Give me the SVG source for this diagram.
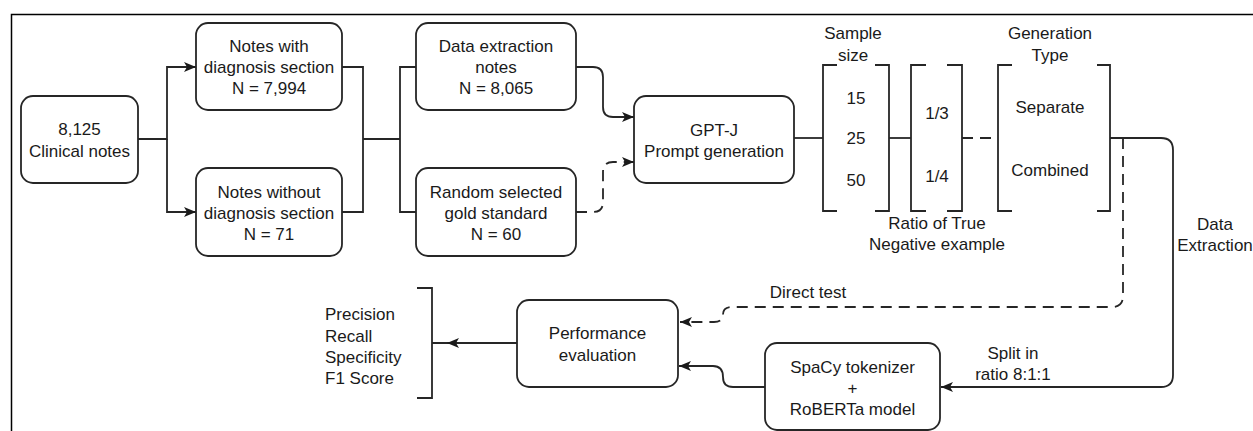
<svg xmlns="http://www.w3.org/2000/svg" width="1253" height="431" viewBox="0 0 1253 431">
<defs>
<style>
.box{fill:#fff;stroke:#262626;stroke-width:1.8}
.ln{fill:none;stroke:#262626;stroke-width:1.8}
.dash{fill:none;stroke:#262626;stroke-width:1.8;stroke-dasharray:11 7}
text{font-family:"Liberation Sans",Arial,sans-serif;font-size:17px;fill:#1a1a1a}
.c{text-anchor:middle}
</style>
<marker id="arr" viewBox="0 0 12 10" refX="12" refY="5" markerWidth="12" markerHeight="10" markerUnits="userSpaceOnUse" orient="auto">
<path d="M0,0 L12,5 L0,10 L3,5 Z" fill="#1a1a1a"/>
</marker>
</defs>
<rect x="11.5" y="14.5" width="1260" height="430" fill="#fff" stroke="#000" stroke-width="1.5"/>

<g id="connectors">
<path class="ln" d="M138,139 H167 V67 H196" marker-end="url(#arr)"/>
<path class="ln" d="M167,139 V212 H196" marker-end="url(#arr)"/>
<path class="ln" d="M342,67 H363 V212 H342"/>
<path class="ln" d="M363,139 H400"/>
<path class="ln" d="M416,67 H400 V212 H416"/>
<path class="ln" d="M576,67 H593 Q603,67 603,77 V107 Q603,117 613,117 H634" marker-end="url(#arr)"/>
<path class="dash" d="M576,212 H593 Q603,212 603,202 V172 Q603,162 613,162 H634" marker-end="url(#arr)"/>
<path class="ln" d="M794,138 H823"/>
<path class="ln" d="M889,138 H911"/>
<path class="dash" d="M962,138 H998"/>
<path class="ln" d="M1110,138 H1161 Q1173,138 1173,150 V375 Q1173,387 1161,387 H941" marker-end="url(#arr)"/>
<path class="dash" d="M1123,138 V296 Q1123,307 1112,307 H732 Q723,307 723,314.5 Q723,322 714,322 H680" marker-end="url(#arr)"/>
<path class="ln" d="M765,387 H733 Q723,387 723,377 Q723,366 713,366 H679" marker-end="url(#arr)"/>
<path class="ln" d="M517,343 H432" />
<path class="ln" d="M517,343 H447" marker-end="url(#arr)"/>
</g>

<g id="clinical-notes">
<rect class="box" x="21" y="96" width="117" height="87" rx="12"/>
<text class="c" x="79.5" y="135">8,125</text>
<text class="c" x="79.5" y="157">Clinical notes</text>
</g>
<g id="notes-with">
<rect class="box" x="196" y="23" width="146" height="87" rx="12"/>
<text class="c" x="269" y="52">Notes with</text>
<text class="c" x="269" y="73">diagnosis section</text>
<text class="c" x="269" y="94">N = 7,994</text>
</g>
<g id="notes-without">
<rect class="box" x="196" y="168" width="146" height="88" rx="12"/>
<text class="c" x="269" y="197.5">Notes without</text>
<text class="c" x="269" y="218.5">diagnosis section</text>
<text class="c" x="269" y="239.5">N = 71</text>
</g>
<g id="data-extraction">
<rect class="box" x="416" y="23" width="160" height="87" rx="12"/>
<text class="c" x="496" y="52">Data extraction</text>
<text class="c" x="496" y="73">notes</text>
<text class="c" x="496" y="94">N = 8,065</text>
</g>
<g id="random-gold">
<rect class="box" x="416" y="168" width="160" height="88" rx="12"/>
<text class="c" x="496" y="197.5">Random selected</text>
<text class="c" x="496" y="218.5">gold standard</text>
<text class="c" x="496" y="239.5">N = 60</text>
</g>
<g id="gptj">
<rect class="box" x="634" y="96" width="160" height="87" rx="12"/>
<text class="c" x="714" y="136">GPT-J</text>
<text class="c" x="714" y="157">Prompt generation</text>
</g>
<g id="sample-size">
<path class="ln" d="M837,65 H823 V211 H837 M875,65 H889 V211 H875"/>
<text class="c" x="853" y="39">Sample</text>
<text class="c" x="853" y="61">size</text>
<text class="c" x="856" y="104">15</text>
<text class="c" x="856" y="144">25</text>
<text class="c" x="856" y="186">50</text>
</g>
<g id="ratio">
<path class="ln" d="M926,65 H911 V211 H926 M947,65 H962 V211 H947"/>
<text class="c" x="937" y="119">1/3</text>
<text class="c" x="937" y="182">1/4</text>
<text class="c" x="937" y="229">Ratio of True</text>
<text class="c" x="937" y="250">Negative example</text>
</g>
<g id="generation-type">
<path class="ln" d="M1012,65 H998 V211 H1012 M1097,65 H1110 V211 H1097"/>
<text class="c" x="1050" y="39">Generation</text>
<text class="c" x="1050" y="61">Type</text>
<text class="c" x="1050" y="113">Separate</text>
<text class="c" x="1050" y="176">Combined</text>
</g>
<g id="performance">
<rect class="box" x="517" y="300" width="161" height="87" rx="12"/>
<text class="c" x="597.5" y="339">Performance</text>
<text class="c" x="597.5" y="361">evaluation</text>
</g>
<g id="spacy">
<rect class="box" x="765" y="343" width="175" height="87" rx="12"/>
<text class="c" x="852.5" y="372.5">SpaCy tokenizer</text>
<text class="c" x="852.5" y="393.5">+</text>
<text class="c" x="852.5" y="415">RoBERTa model</text>
</g>
<g id="metrics">
<path class="ln" d="M417,288 H432 V398 H417"/>
<text x="325" y="320">Precision</text>
<text x="325" y="341.5">Recall</text>
<text x="325" y="362.5">Specificity</text>
<text x="325" y="383.5">F1 Score</text>
</g>
<g id="labels">
<text class="c" x="808" y="298">Direct test</text>
<text class="c" x="1013" y="358.5">Split in</text>
<text class="c" x="1013" y="380">ratio 8:1:1</text>
<text class="c" x="1215" y="230">Data</text>
<text class="c" x="1215" y="251">Extraction</text>
</g>
</svg>
